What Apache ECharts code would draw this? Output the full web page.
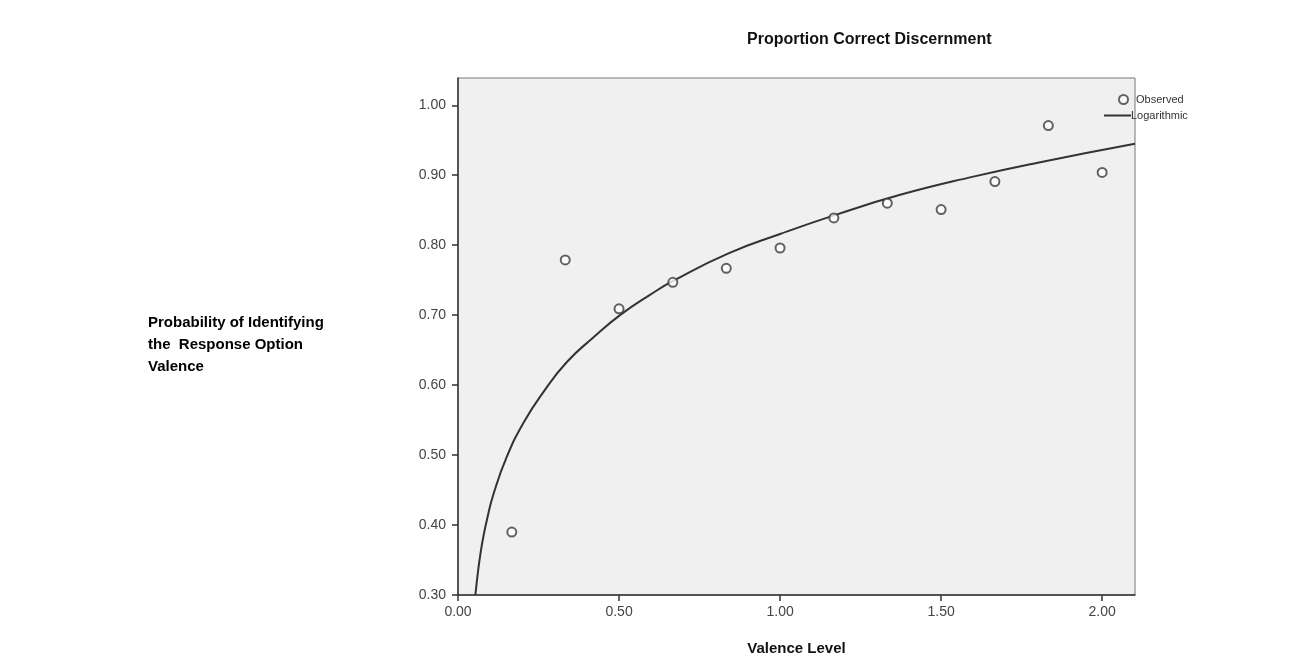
<!DOCTYPE html>
<html>
<head>
<meta charset="utf-8">
<script src="https://cdn.jsdelivr.net/npm/echarts@6/dist/echarts.min.js"></script>
<style>
html,body{margin:0;padding:0;background:#fff;}
#chart{width:1312px;height:661px;}
</style>
</head>
<body>
<div id="chart"></div>
<script>
// Observed points (Valence Level, Proportion Correct)
const observedX = [0.167, 0.333, 0.5, 0.667, 0.833, 1.0, 1.167, 1.333, 1.5, 1.667, 1.833, 2.0];
const observedY = [0.390, 0.779, 0.709, 0.747, 0.767, 0.796, 0.839, 0.860, 0.851, 0.891, 0.971, 0.904];
// Logarithmic fit curve
const fitX = [0.054, 0.062, 0.070, 0.079, 0.092, 0.110, 0.151, 0.203, 0.265, 0.338, 0.420, 0.503, 0.596, 0.672, 0.838, 1.0, 1.170, 1.373, 1.6, 1.8, 2.102];
const fitY = [0.300, 0.333, 0.360, 0.384, 0.412, 0.444, 0.497, 0.546, 0.590, 0.633, 0.668, 0.700, 0.729, 0.750, 0.788, 0.816, 0.843, 0.872, 0.898, 0.918, 0.945];
// Tick values
const xTicks = [0, 0.5, 1.0, 1.5, 2.0];
const yTicks = [0.3, 0.4, 0.5, 0.6, 0.7, 0.8, 0.9, 1.0];

const chart = echarts.init(document.getElementById('chart'), null, {renderer: 'canvas'});
const FONT = '"Liberation Sans", Arial, sans-serif';

const option = {
  backgroundColor: '#ffffff',
  animation: false,
  title: {
    text: 'Proportion Correct Discernment',
    left: 742, top: 27,
    textStyle: {fontFamily: FONT, fontWeight: 'bold', fontSize: 16, color: '#111'}
  },
  legend: [
    {
      data: [{name: 'Observed', icon: 'emptyCircle'}],
      left: 1113, top: 89, orient: 'vertical',
      itemWidth: 9, itemHeight: 9, itemGap: 4,
      textStyle: {fontFamily: FONT, fontSize: 11, color: '#333', padding: [0,0,0,3]}
    },
    {
      data: [{name: 'Logarithmic', icon: 'rect'}],
      left: 1099, top: 105, orient: 'vertical',
      itemWidth: 27, itemHeight: 2,
      textStyle: {fontFamily: FONT, fontSize: 11, color: '#333', padding: [0,0,0,-5]}
    }
  ],
  graphic: [{
    type: 'text',
    left: 148, top: 312,
    style: {
      text: 'Probability of Identifying\nthe  Response Option\nValence',
      font: 'bold 15px "Liberation Sans", Arial, sans-serif',
      lineHeight: 22,
      fill: '#000'
    }
  }],
  grid: {
    left: 458, top: 78, width: 677, height: 517,
    show: true, backgroundColor: '#f0f0f0', borderColor: '#777', borderWidth: 1
  },
  xAxis: {
    type: 'value', min: 0, max: 2.102, interval: 0.5,
    name: 'Valence Level', nameLocation: 'middle', nameGap: 46,
    nameTextStyle: {fontFamily: FONT, fontWeight: 'bold', fontSize: 15, color: '#111'},
    axisLine: {show: true, onZero: false, lineStyle: {color: '#333', width: 1.5}},
    axisTick: {show: true, inside: false, length: 6, lineStyle: {color: '#333', width: 1.5}, customValues: xTicks},
    axisLabel: {customValues: xTicks, fontFamily: FONT, fontSize: 14, color: '#444', margin: 10,
      formatter: v => v.toFixed(2)},
    splitLine: {show: false}
  },
  yAxis: {
    type: 'value', min: 0.3, max: 1.039, interval: 0.1,
    axisLine: {show: true, onZero: false, lineStyle: {color: '#333', width: 1.5}},
    axisTick: {show: true, inside: false, length: 6, lineStyle: {color: '#333', width: 1.5}, customValues: yTicks},
    axisLabel: {customValues: yTicks, fontFamily: FONT, fontSize: 14, color: '#444', margin: 12,
      formatter: v => v.toFixed(2)},
    splitLine: {show: false}
  },
  series: [
    {
      name: 'Observed', type: 'scatter',
      symbol: 'emptyCircle', symbolSize: 9,
      itemStyle: {color: '#3c3c3c', borderColor: '#3c3c3c', borderWidth: 1.5},
      data: observedX.map((x, i) => [x, observedY[i]]),
      z: 3
    },
    {
      name: 'Logarithmic', type: 'line',
      smooth: 0.5, showSymbol: false, symbol: 'none',
      lineStyle: {color: '#333', width: 2},
      itemStyle: {color: '#333'},
      data: fitX.map((x, i) => [x, fitY[i]]),
      clip: true, z: 2
    }
  ]
};
chart.setOption(option);
</script>
</body>
</html>
